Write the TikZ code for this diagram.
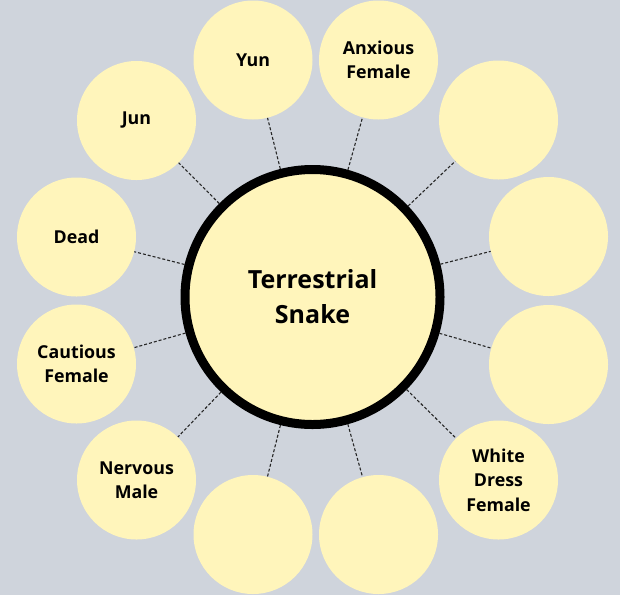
\documentclass[tikz,border=0pt]{standalone}
\usepackage{fontspec}
\setmainfont{Open Sans}
\definecolor{bgcol}{HTML}{CFD4DC}
\definecolor{petalcol}{HTML}{FFF5BB}
\tikzset{
  petal/.style={circle, fill=petalcol, minimum size=119pt, inner sep=0pt, align=center,
    font=\bfseries\fontsize{17.8}{24.5}\selectfont},
  hub/.style={circle, fill=petalcol, draw=black, line width=9pt, minimum size=255pt,
    inner sep=0pt, align=center, font=\bfseries\fontsize{25}{35}\selectfont},
  link/.style={densely dashed, line width=1.1pt, black!85}
}
\begin{document}
\begin{tikzpicture}[x=1pt, y=-1pt]
  \fill[bgcol] (0,0) rectangle (620,595);
  \useasboundingbox (0,0) rectangle (620,595);
  % centre
  \node[hub] (hub) at (312.5,297) {Terrestrial\\Snake};
  % ring of petals
  \node[petal] (yun) at (253,60) {Yun};
  \node[petal] (anxious) at (378.5,60) {Anxious\\Female};
  \node[petal] (blankA) at (498.5,120) {};
  \node[petal] (blankB) at (548.5,236.5) {};
  \node[petal] (blankC) at (548.5,364.5) {};
  \node[petal] (whitedress) at (498.5,480) {White\\Dress\\Female};
  \node[petal] (blankD) at (378.5,534.5) {};
  \node[petal] (blankE) at (253,534.5) {};
  \node[petal] (nervous) at (136.5,480) {Nervous\\Male};
  \node[petal] (cautious) at (76.5,364) {Cautious\\Female};
  \node[petal] (dead) at (76.5,237) {Dead};
  \node[petal] (jun) at (136.5,120.5) {Jun};
  % dashed spokes
  \draw[link] (hub) -- (yun);
  \draw[link] (hub) -- (anxious);
  \draw[link] (hub) -- (blankA);
  \draw[link] (hub) -- (blankB);
  \draw[link] (hub) -- (blankC);
  \draw[link] (hub) -- (whitedress);
  \draw[link] (hub) -- (blankD);
  \draw[link] (hub) -- (blankE);
  \draw[link] (hub) -- (nervous);
  \draw[link] (hub) -- (cautious);
  \draw[link] (hub) -- (dead);
  \draw[link] (hub) -- (jun);
\end{tikzpicture}
\end{document}
